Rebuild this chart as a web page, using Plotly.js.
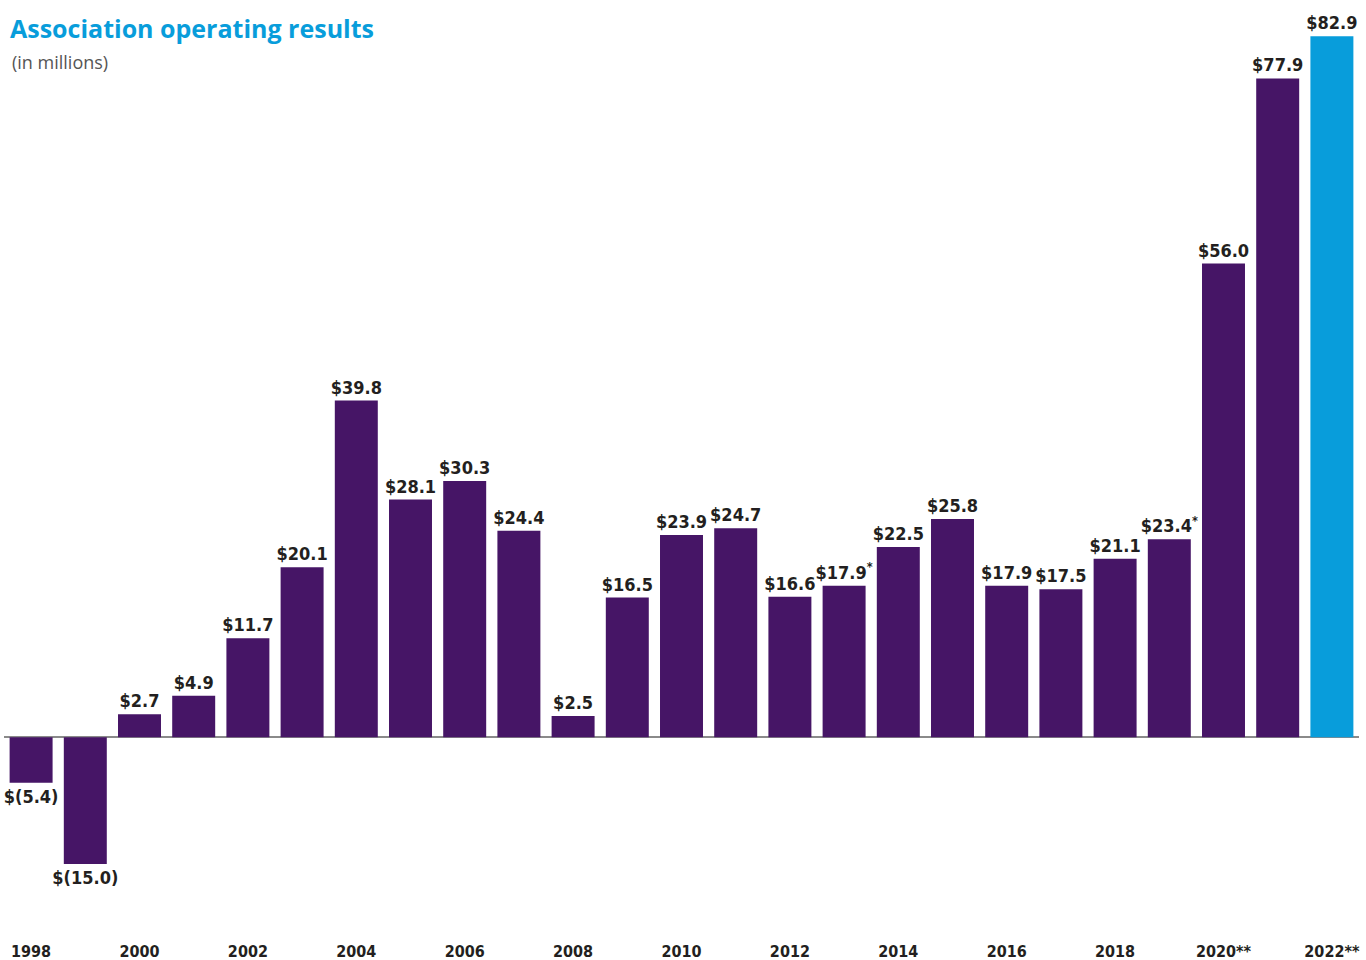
<!DOCTYPE html>
<html>
<head>
<meta charset="utf-8">
<script src="https://cdn.plot.ly/plotly-3.0.1.min.js"></script>
<style>
  html, body { margin: 0; padding: 0; background: #fff; }
  #chart { width: 1366px; height: 960px; }
</style>
</head>
<body>
<div id="chart"></div>
<script>
// data
var years = [1998, 1999, 2000, 2001, 2002, 2003, 2004, 2005, 2006, 2007, 2008, 2009, 2010,
             2011, 2012, 2013, 2014, 2015, 2016, 2017, 2018, 2019, 2020, 2021, 2022];
var results = [-5.4, -15.0, 2.7, 4.9, 11.7, 20.1, 39.8, 28.1, 30.3, 24.4, 2.5, 16.5, 23.9,
               24.7, 16.6, 17.9, 22.5, 25.8, 17.9, 17.5, 21.1, 23.4, 56.0, 77.9, 82.9];
var footnoteYears = [2013, 2019];
var tickYears = [1998, 2000, 2002, 2004, 2006, 2008, 2010, 2012, 2014, 2016, 2018, 2020, 2022];
var tickLabels = ['1998', '2000', '2002', '2004', '2006', '2008', '2010', '2012', '2014',
                  '2016', '2018', '2020**', '2022**'];

var purple = '#461566';
var blue = '#089ddb';
var ink = '#231f20';
var narrow = '"DejaVu Sans Condensed", "Liberation Sans Narrow", sans-serif';

var labels = results.map(function (v, i) {
  var s = v < 0 ? '$(' + Math.abs(v).toFixed(1) + ')' : '$' + v.toFixed(1);
  if (footnoteYears.indexOf(years[i]) >= 0) s += '<sup>*</sup>';
  return s;
});
var colors = years.map(function (y) { return y === 2022 ? blue : purple; });

var trace = {
  type: 'bar',
  x: years,
  y: results,
  text: labels,
  textposition: 'outside',
  constraintext: 'none',
  cliponaxis: false,
  textfont: { family: narrow, size: 18, color: ink, weight: 'bold' },
  marker: { color: colors, line: { width: 0 } },
  hoverinfo: 'x+y'
};

var layout = {
  width: 1366,
  height: 960,
  margin: { l: 4, r: 7, t: 15, b: 25 },
  paper_bgcolor: '#fff',
  plot_bgcolor: '#fff',
  showlegend: false,
  bargap: 0.207,
  title: {
    text: '<b>Association operating results</b>',
    font: { family: '"Open Sans", sans-serif', size: 25, color: blue },
    xref: 'container', yref: 'container',
    x: 10 / 1366, xanchor: 'left',
    y: 1 - 29 / 960, yanchor: 'middle'
  },
  annotations: [{
    text: '(in millions)',
    xref: 'paper', yref: 'paper',
    x: 6 / 1355, xanchor: 'left',
    y: (935 - 62) / 920, yanchor: 'middle',
    showarrow: false,
    font: { family: '"Open Sans", sans-serif', size: 18, color: '#555' }
  }],
  xaxis: {
    range: [1997.5, 2022.5],
    tickvals: tickYears,
    ticktext: tickLabels,
    tickfont: { family: narrow, size: 16, color: ink, weight: 'bold' },
    ticklabelstandoff: 5,
    showgrid: false,
    zeroline: false,
    showline: false,
    ticks: ''
  },
  yaxis: {
    range: [-23.4, 85.4],
    showgrid: false,
    showticklabels: false,
    zeroline: true,
    zerolinecolor: '#8a8a8a',
    zerolinewidth: 1.5,
    showline: false,
    ticks: ''
  }
};

Plotly.newPlot('chart', [trace], layout, { displayModeBar: false, staticPlot: true });
</script>
</body>
</html>
